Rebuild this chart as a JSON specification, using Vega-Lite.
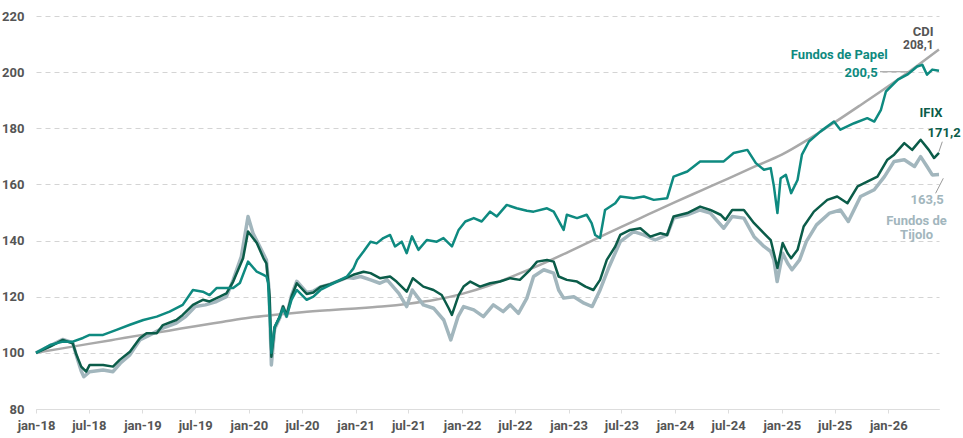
{
  "$schema": "https://vega.github.io/schema/vega-lite/v6.json",
  "width": 903,
  "height": 393,
  "autosize": "none",
  "padding": {"left": 36, "top": 16, "right": 24, "bottom": 29},
  "background": "white",
  "config": {
    "font": "Roboto",
    "view": {"stroke": null},
    "axis": {"labelFont": "Roboto", "labelFontSize": 13, "labelFontWeight": "bold", "labelColor": "#555555", "title": null}
  },
  "datasets": {
    "series": [
      {"s": "cdi", "d": "2018-01-01", "v": 100},
      {"s": "cdi", "d": "2018-04-01", "v": 101.6},
      {"s": "cdi", "d": "2018-07-01", "v": 103.2},
      {"s": "cdi", "d": "2018-10-01", "v": 104.8},
      {"s": "cdi", "d": "2019-01-01", "v": 106.4},
      {"s": "cdi", "d": "2019-04-01", "v": 107.9},
      {"s": "cdi", "d": "2019-07-01", "v": 109.5},
      {"s": "cdi", "d": "2019-10-01", "v": 111.0},
      {"s": "cdi", "d": "2020-01-01", "v": 112.5},
      {"s": "cdi", "d": "2020-04-01", "v": 113.6},
      {"s": "cdi", "d": "2020-07-01", "v": 114.5},
      {"s": "cdi", "d": "2020-10-01", "v": 115.2},
      {"s": "cdi", "d": "2021-01-01", "v": 115.8},
      {"s": "cdi", "d": "2021-04-01", "v": 116.5},
      {"s": "cdi", "d": "2021-07-01", "v": 117.5},
      {"s": "cdi", "d": "2021-10-01", "v": 118.9},
      {"s": "cdi", "d": "2022-01-01", "v": 121.0},
      {"s": "cdi", "d": "2022-04-01", "v": 123.9},
      {"s": "cdi", "d": "2022-07-01", "v": 127.6},
      {"s": "cdi", "d": "2022-10-01", "v": 131.6},
      {"s": "cdi", "d": "2023-01-01", "v": 136.0},
      {"s": "cdi", "d": "2023-04-01", "v": 140.4},
      {"s": "cdi", "d": "2023-07-01", "v": 144.9},
      {"s": "cdi", "d": "2023-10-01", "v": 149.3},
      {"s": "cdi", "d": "2024-01-01", "v": 153.7},
      {"s": "cdi", "d": "2024-04-01", "v": 157.9},
      {"s": "cdi", "d": "2024-07-01", "v": 162.1},
      {"s": "cdi", "d": "2024-10-01", "v": 166.4},
      {"s": "cdi", "d": "2025-01-01", "v": 170.6},
      {"s": "cdi", "d": "2025-04-01", "v": 176.0},
      {"s": "cdi", "d": "2025-07-01", "v": 182.1},
      {"s": "cdi", "d": "2025-10-01", "v": 188.5},
      {"s": "cdi", "d": "2026-01-01", "v": 195.0},
      {"s": "cdi", "d": "2026-04-01", "v": 201.6},
      {"s": "cdi", "d": "2026-06-24", "v": 208.1},

      {"s": "papel", "d": "2018-01-01", "v": 100},
      {"s": "papel", "d": "2018-02-18", "v": 102.8},
      {"s": "papel", "d": "2018-04-03", "v": 104.0},
      {"s": "papel", "d": "2018-05-07", "v": 104.0},
      {"s": "papel", "d": "2018-06-11", "v": 105.3},
      {"s": "papel", "d": "2018-07-04", "v": 106.4},
      {"s": "papel", "d": "2018-08-19", "v": 106.4},
      {"s": "papel", "d": "2018-10-04", "v": 108.2},
      {"s": "papel", "d": "2018-11-19", "v": 110.0},
      {"s": "papel", "d": "2019-01-04", "v": 111.7},
      {"s": "papel", "d": "2019-02-19", "v": 112.9},
      {"s": "papel", "d": "2019-04-04", "v": 114.7},
      {"s": "papel", "d": "2019-05-19", "v": 117.1},
      {"s": "papel", "d": "2019-06-23", "v": 122.4},
      {"s": "papel", "d": "2019-07-27", "v": 121.8},
      {"s": "papel", "d": "2019-08-19", "v": 120.6},
      {"s": "papel", "d": "2019-09-12", "v": 123.1},
      {"s": "papel", "d": "2019-10-16", "v": 123.1},
      {"s": "papel", "d": "2019-11-08", "v": 123.1},
      {"s": "papel", "d": "2019-12-01", "v": 124.9},
      {"s": "papel", "d": "2019-12-29", "v": 132.5},
      {"s": "papel", "d": "2020-01-28", "v": 128.9},
      {"s": "papel", "d": "2020-02-20", "v": 127.8},
      {"s": "papel", "d": "2020-03-01", "v": 127.2},
      {"s": "papel", "d": "2020-03-07", "v": 124.9},
      {"s": "papel", "d": "2020-03-18", "v": 100.0},
      {"s": "papel", "d": "2020-03-29", "v": 109.3},
      {"s": "papel", "d": "2020-04-16", "v": 112.9},
      {"s": "papel", "d": "2020-04-27", "v": 115.9},
      {"s": "papel", "d": "2020-05-09", "v": 112.9},
      {"s": "papel", "d": "2020-05-26", "v": 118.9},
      {"s": "papel", "d": "2020-06-13", "v": 122.4},
      {"s": "papel", "d": "2020-07-17", "v": 118.9},
      {"s": "papel", "d": "2020-08-09", "v": 120.0},
      {"s": "papel", "d": "2020-09-02", "v": 122.4},
      {"s": "papel", "d": "2020-10-06", "v": 124.2},
      {"s": "papel", "d": "2020-10-28", "v": 125.4},
      {"s": "papel", "d": "2020-11-21", "v": 126.6},
      {"s": "papel", "d": "2020-12-02", "v": 127.2},
      {"s": "papel", "d": "2020-12-24", "v": 130.0},
      {"s": "papel", "d": "2021-01-06", "v": 133.1},
      {"s": "papel", "d": "2021-01-28", "v": 136.1},
      {"s": "papel", "d": "2021-02-21", "v": 139.6},
      {"s": "papel", "d": "2021-03-14", "v": 139.0},
      {"s": "papel", "d": "2021-04-06", "v": 140.9},
      {"s": "papel", "d": "2021-04-29", "v": 142.0},
      {"s": "papel", "d": "2021-05-16", "v": 137.9},
      {"s": "papel", "d": "2021-06-08", "v": 139.6},
      {"s": "papel", "d": "2021-06-25", "v": 135.5},
      {"s": "papel", "d": "2021-07-13", "v": 141.5},
      {"s": "papel", "d": "2021-08-04", "v": 136.7},
      {"s": "papel", "d": "2021-09-02", "v": 140.2},
      {"s": "papel", "d": "2021-10-06", "v": 139.6},
      {"s": "papel", "d": "2021-10-29", "v": 140.9},
      {"s": "papel", "d": "2021-11-27", "v": 137.9},
      {"s": "papel", "d": "2021-12-20", "v": 143.8},
      {"s": "papel", "d": "2022-01-12", "v": 146.8},
      {"s": "papel", "d": "2022-02-10", "v": 148.0},
      {"s": "papel", "d": "2022-03-09", "v": 146.8},
      {"s": "papel", "d": "2022-04-07", "v": 150.3},
      {"s": "papel", "d": "2022-04-30", "v": 148.6},
      {"s": "papel", "d": "2022-06-03", "v": 152.7},
      {"s": "papel", "d": "2022-07-07", "v": 151.5},
      {"s": "papel", "d": "2022-08-11", "v": 150.6},
      {"s": "papel", "d": "2022-09-03", "v": 150.3},
      {"s": "papel", "d": "2022-10-19", "v": 151.5},
      {"s": "papel", "d": "2022-11-11", "v": 150.3},
      {"s": "papel", "d": "2022-12-15", "v": 143.8},
      {"s": "papel", "d": "2022-12-26", "v": 149.2},
      {"s": "papel", "d": "2023-01-30", "v": 148.0},
      {"s": "papel", "d": "2023-03-04", "v": 149.2},
      {"s": "papel", "d": "2023-03-21", "v": 146.2},
      {"s": "papel", "d": "2023-04-02", "v": 142.0},
      {"s": "papel", "d": "2023-04-19", "v": 140.9},
      {"s": "papel", "d": "2023-05-06", "v": 150.9},
      {"s": "papel", "d": "2023-06-10", "v": 153.3},
      {"s": "papel", "d": "2023-06-27", "v": 155.7},
      {"s": "papel", "d": "2023-08-12", "v": 155.1},
      {"s": "papel", "d": "2023-09-16", "v": 155.7},
      {"s": "papel", "d": "2023-10-20", "v": 154.5},
      {"s": "papel", "d": "2023-12-05", "v": 155.1},
      {"s": "papel", "d": "2023-12-27", "v": 162.8},
      {"s": "papel", "d": "2024-02-12", "v": 164.6},
      {"s": "papel", "d": "2024-03-27", "v": 168.2},
      {"s": "papel", "d": "2024-05-12", "v": 168.2},
      {"s": "papel", "d": "2024-06-16", "v": 168.2},
      {"s": "papel", "d": "2024-07-20", "v": 171.2},
      {"s": "papel", "d": "2024-09-05", "v": 172.3},
      {"s": "papel", "d": "2024-10-04", "v": 167.6},
      {"s": "papel", "d": "2024-11-01", "v": 165.2},
      {"s": "papel", "d": "2024-11-24", "v": 165.8},
      {"s": "papel", "d": "2024-12-05", "v": 159.3},
      {"s": "papel", "d": "2024-12-17", "v": 149.8},
      {"s": "papel", "d": "2024-12-28", "v": 162.2},
      {"s": "papel", "d": "2025-01-15", "v": 163.4},
      {"s": "papel", "d": "2025-02-02", "v": 156.9},
      {"s": "papel", "d": "2025-02-24", "v": 161.6},
      {"s": "papel", "d": "2025-03-11", "v": 170.6},
      {"s": "papel", "d": "2025-04-04", "v": 175.3},
      {"s": "papel", "d": "2025-05-14", "v": 178.9},
      {"s": "papel", "d": "2025-06-29", "v": 182.4},
      {"s": "papel", "d": "2025-07-21", "v": 179.5},
      {"s": "papel", "d": "2025-09-06", "v": 181.8},
      {"s": "papel", "d": "2025-10-21", "v": 183.6},
      {"s": "papel", "d": "2025-11-14", "v": 182.4},
      {"s": "papel", "d": "2025-12-07", "v": 186.6},
      {"s": "papel", "d": "2025-12-24", "v": 193.1},
      {"s": "papel", "d": "2026-02-03", "v": 197.3},
      {"s": "papel", "d": "2026-03-07", "v": 199.1},
      {"s": "papel", "d": "2026-04-10", "v": 202.0},
      {"s": "papel", "d": "2026-04-28", "v": 202.6},
      {"s": "papel", "d": "2026-05-14", "v": 199.1},
      {"s": "papel", "d": "2026-06-01", "v": 200.9},
      {"s": "papel", "d": "2026-06-24", "v": 200.5},

      {"s": "ifix", "d": "2018-01-01", "v": 100},
      {"s": "ifix", "d": "2018-02-18", "v": 102.2},
      {"s": "ifix", "d": "2018-04-03", "v": 104.6},
      {"s": "ifix", "d": "2018-05-07", "v": 103.4},
      {"s": "ifix", "d": "2018-05-18", "v": 99.8},
      {"s": "ifix", "d": "2018-06-05", "v": 95.1},
      {"s": "ifix", "d": "2018-06-22", "v": 93.3},
      {"s": "ifix", "d": "2018-07-04", "v": 95.7},
      {"s": "ifix", "d": "2018-08-19", "v": 95.7},
      {"s": "ifix", "d": "2018-09-22", "v": 95.1},
      {"s": "ifix", "d": "2018-10-15", "v": 97.5},
      {"s": "ifix", "d": "2018-11-19", "v": 100.4},
      {"s": "ifix", "d": "2018-12-23", "v": 105.2},
      {"s": "ifix", "d": "2019-01-15", "v": 107.0},
      {"s": "ifix", "d": "2019-02-19", "v": 107.0},
      {"s": "ifix", "d": "2019-03-12", "v": 109.9},
      {"s": "ifix", "d": "2019-04-27", "v": 111.7},
      {"s": "ifix", "d": "2019-05-19", "v": 113.5},
      {"s": "ifix", "d": "2019-06-23", "v": 117.1},
      {"s": "ifix", "d": "2019-07-27", "v": 118.9},
      {"s": "ifix", "d": "2019-08-19", "v": 118.3},
      {"s": "ifix", "d": "2019-09-23", "v": 120.0},
      {"s": "ifix", "d": "2019-10-16", "v": 121.2},
      {"s": "ifix", "d": "2019-11-08", "v": 125.4},
      {"s": "ifix", "d": "2019-12-12", "v": 133.7},
      {"s": "ifix", "d": "2019-12-29", "v": 143.2},
      {"s": "ifix", "d": "2020-01-28", "v": 139.1},
      {"s": "ifix", "d": "2020-02-20", "v": 133.7},
      {"s": "ifix", "d": "2020-03-01", "v": 131.9},
      {"s": "ifix", "d": "2020-03-12", "v": 120.0},
      {"s": "ifix", "d": "2020-03-18", "v": 98.6},
      {"s": "ifix", "d": "2020-03-29", "v": 109.0},
      {"s": "ifix", "d": "2020-04-16", "v": 113.0},
      {"s": "ifix", "d": "2020-04-27", "v": 116.5},
      {"s": "ifix", "d": "2020-05-09", "v": 113.5},
      {"s": "ifix", "d": "2020-05-26", "v": 120.0},
      {"s": "ifix", "d": "2020-06-13", "v": 124.8},
      {"s": "ifix", "d": "2020-07-17", "v": 121.0},
      {"s": "ifix", "d": "2020-08-09", "v": 121.5},
      {"s": "ifix", "d": "2020-09-02", "v": 123.5},
      {"s": "ifix", "d": "2020-10-06", "v": 124.5},
      {"s": "ifix", "d": "2020-10-28", "v": 125.4},
      {"s": "ifix", "d": "2020-12-02", "v": 126.8},
      {"s": "ifix", "d": "2020-12-24", "v": 127.8},
      {"s": "ifix", "d": "2021-01-28", "v": 128.9},
      {"s": "ifix", "d": "2021-02-21", "v": 128.4},
      {"s": "ifix", "d": "2021-03-25", "v": 126.6},
      {"s": "ifix", "d": "2021-04-29", "v": 127.2},
      {"s": "ifix", "d": "2021-05-21", "v": 125.4},
      {"s": "ifix", "d": "2021-06-25", "v": 121.8},
      {"s": "ifix", "d": "2021-07-16", "v": 126.6},
      {"s": "ifix", "d": "2021-08-21", "v": 123.6},
      {"s": "ifix", "d": "2021-09-25", "v": 122.4},
      {"s": "ifix", "d": "2021-10-23", "v": 120.6},
      {"s": "ifix", "d": "2021-11-16", "v": 115.9},
      {"s": "ifix", "d": "2021-11-27", "v": 113.5},
      {"s": "ifix", "d": "2021-12-20", "v": 120.6},
      {"s": "ifix", "d": "2022-01-06", "v": 123.6},
      {"s": "ifix", "d": "2022-01-29", "v": 125.4},
      {"s": "ifix", "d": "2022-03-03", "v": 123.6},
      {"s": "ifix", "d": "2022-04-07", "v": 124.8},
      {"s": "ifix", "d": "2022-05-11", "v": 125.4},
      {"s": "ifix", "d": "2022-06-15", "v": 126.6},
      {"s": "ifix", "d": "2022-07-18", "v": 126.0},
      {"s": "ifix", "d": "2022-08-22", "v": 129.6},
      {"s": "ifix", "d": "2022-09-15", "v": 132.5},
      {"s": "ifix", "d": "2022-10-19", "v": 133.1},
      {"s": "ifix", "d": "2022-11-11", "v": 132.5},
      {"s": "ifix", "d": "2022-11-28", "v": 127.2},
      {"s": "ifix", "d": "2022-12-26", "v": 126.0},
      {"s": "ifix", "d": "2023-01-30", "v": 125.4},
      {"s": "ifix", "d": "2023-02-28", "v": 123.6},
      {"s": "ifix", "d": "2023-03-27", "v": 122.4},
      {"s": "ifix", "d": "2023-04-19", "v": 126.0},
      {"s": "ifix", "d": "2023-05-12", "v": 133.1},
      {"s": "ifix", "d": "2023-06-10", "v": 137.9},
      {"s": "ifix", "d": "2023-06-27", "v": 142.0},
      {"s": "ifix", "d": "2023-07-31", "v": 143.8},
      {"s": "ifix", "d": "2023-09-04", "v": 144.4},
      {"s": "ifix", "d": "2023-10-08", "v": 141.4},
      {"s": "ifix", "d": "2023-11-12", "v": 142.6},
      {"s": "ifix", "d": "2023-12-05", "v": 142.0},
      {"s": "ifix", "d": "2023-12-27", "v": 148.6},
      {"s": "ifix", "d": "2024-02-12", "v": 149.8},
      {"s": "ifix", "d": "2024-03-27", "v": 152.1},
      {"s": "ifix", "d": "2024-05-01", "v": 150.9},
      {"s": "ifix", "d": "2024-06-05", "v": 149.2},
      {"s": "ifix", "d": "2024-06-22", "v": 147.4},
      {"s": "ifix", "d": "2024-07-15", "v": 150.9},
      {"s": "ifix", "d": "2024-08-24", "v": 150.9},
      {"s": "ifix", "d": "2024-09-28", "v": 146.2},
      {"s": "ifix", "d": "2024-11-01", "v": 142.6},
      {"s": "ifix", "d": "2024-11-24", "v": 140.2},
      {"s": "ifix", "d": "2024-12-05", "v": 135.5},
      {"s": "ifix", "d": "2024-12-17", "v": 130.2},
      {"s": "ifix", "d": "2025-01-04", "v": 139.1},
      {"s": "ifix", "d": "2025-01-21", "v": 135.5},
      {"s": "ifix", "d": "2025-02-02", "v": 133.7},
      {"s": "ifix", "d": "2025-02-24", "v": 136.7},
      {"s": "ifix", "d": "2025-03-17", "v": 145.0},
      {"s": "ifix", "d": "2025-04-21", "v": 150.3},
      {"s": "ifix", "d": "2025-06-06", "v": 154.5},
      {"s": "ifix", "d": "2025-07-10", "v": 155.7},
      {"s": "ifix", "d": "2025-08-14", "v": 153.3},
      {"s": "ifix", "d": "2025-09-18", "v": 159.3},
      {"s": "ifix", "d": "2025-10-21", "v": 161.0},
      {"s": "ifix", "d": "2025-11-25", "v": 162.8},
      {"s": "ifix", "d": "2025-12-29", "v": 168.8},
      {"s": "ifix", "d": "2026-01-21", "v": 170.6},
      {"s": "ifix", "d": "2026-02-25", "v": 174.7},
      {"s": "ifix", "d": "2026-03-24", "v": 172.3},
      {"s": "ifix", "d": "2026-04-22", "v": 175.9},
      {"s": "ifix", "d": "2026-05-20", "v": 172.3},
      {"s": "ifix", "d": "2026-06-07", "v": 169.4},
      {"s": "ifix", "d": "2026-06-24", "v": 171.2},

      {"s": "tijolo", "d": "2018-01-01", "v": 100},
      {"s": "tijolo", "d": "2018-02-18", "v": 102.5},
      {"s": "tijolo", "d": "2018-04-03", "v": 104.8},
      {"s": "tijolo", "d": "2018-05-07", "v": 103.6},
      {"s": "tijolo", "d": "2018-05-18", "v": 99.5},
      {"s": "tijolo", "d": "2018-06-05", "v": 93.5},
      {"s": "tijolo", "d": "2018-06-14", "v": 91.5},
      {"s": "tijolo", "d": "2018-07-04", "v": 93.3},
      {"s": "tijolo", "d": "2018-08-19", "v": 93.9},
      {"s": "tijolo", "d": "2018-09-22", "v": 93.3},
      {"s": "tijolo", "d": "2018-10-17", "v": 96.3},
      {"s": "tijolo", "d": "2018-11-19", "v": 99.3},
      {"s": "tijolo", "d": "2018-12-23", "v": 104.6},
      {"s": "tijolo", "d": "2019-01-27", "v": 106.4},
      {"s": "tijolo", "d": "2019-03-12", "v": 108.8},
      {"s": "tijolo", "d": "2019-04-27", "v": 110.6},
      {"s": "tijolo", "d": "2019-05-29", "v": 112.9},
      {"s": "tijolo", "d": "2019-07-01", "v": 116.5},
      {"s": "tijolo", "d": "2019-08-05", "v": 117.1},
      {"s": "tijolo", "d": "2019-09-12", "v": 118.3},
      {"s": "tijolo", "d": "2019-10-16", "v": 120.0},
      {"s": "tijolo", "d": "2019-11-08", "v": 126.0},
      {"s": "tijolo", "d": "2019-12-06", "v": 134.3},
      {"s": "tijolo", "d": "2019-12-29", "v": 148.6},
      {"s": "tijolo", "d": "2020-01-15", "v": 142.6},
      {"s": "tijolo", "d": "2020-02-07", "v": 137.9},
      {"s": "tijolo", "d": "2020-03-01", "v": 133.1},
      {"s": "tijolo", "d": "2020-03-10", "v": 122.4},
      {"s": "tijolo", "d": "2020-03-18", "v": 95.7},
      {"s": "tijolo", "d": "2020-03-29", "v": 108.5},
      {"s": "tijolo", "d": "2020-04-16", "v": 112.5},
      {"s": "tijolo", "d": "2020-04-27", "v": 116.5},
      {"s": "tijolo", "d": "2020-05-09", "v": 113.0},
      {"s": "tijolo", "d": "2020-05-26", "v": 120.5},
      {"s": "tijolo", "d": "2020-06-13", "v": 125.5},
      {"s": "tijolo", "d": "2020-07-17", "v": 121.5},
      {"s": "tijolo", "d": "2020-08-09", "v": 122.0},
      {"s": "tijolo", "d": "2020-09-02", "v": 123.5},
      {"s": "tijolo", "d": "2020-10-06", "v": 124.5},
      {"s": "tijolo", "d": "2020-10-28", "v": 125.4},
      {"s": "tijolo", "d": "2020-12-02", "v": 126.8},
      {"s": "tijolo", "d": "2020-12-24", "v": 126.6},
      {"s": "tijolo", "d": "2021-01-18", "v": 127.2},
      {"s": "tijolo", "d": "2021-02-21", "v": 126.0},
      {"s": "tijolo", "d": "2021-03-25", "v": 124.8},
      {"s": "tijolo", "d": "2021-04-19", "v": 126.0},
      {"s": "tijolo", "d": "2021-05-29", "v": 121.2},
      {"s": "tijolo", "d": "2021-06-25", "v": 116.5},
      {"s": "tijolo", "d": "2021-07-14", "v": 122.4},
      {"s": "tijolo", "d": "2021-08-21", "v": 117.1},
      {"s": "tijolo", "d": "2021-09-25", "v": 115.9},
      {"s": "tijolo", "d": "2021-10-30", "v": 111.7},
      {"s": "tijolo", "d": "2021-11-23", "v": 104.6},
      {"s": "tijolo", "d": "2021-12-18", "v": 112.9},
      {"s": "tijolo", "d": "2022-01-06", "v": 116.5},
      {"s": "tijolo", "d": "2022-02-10", "v": 115.3},
      {"s": "tijolo", "d": "2022-03-15", "v": 112.9},
      {"s": "tijolo", "d": "2022-04-18", "v": 117.1},
      {"s": "tijolo", "d": "2022-05-22", "v": 114.7},
      {"s": "tijolo", "d": "2022-06-15", "v": 117.1},
      {"s": "tijolo", "d": "2022-07-13", "v": 114.1},
      {"s": "tijolo", "d": "2022-08-11", "v": 119.5},
      {"s": "tijolo", "d": "2022-09-03", "v": 127.2},
      {"s": "tijolo", "d": "2022-10-08", "v": 129.6},
      {"s": "tijolo", "d": "2022-11-11", "v": 128.4},
      {"s": "tijolo", "d": "2022-11-28", "v": 122.4},
      {"s": "tijolo", "d": "2022-12-15", "v": 119.5},
      {"s": "tijolo", "d": "2023-01-19", "v": 120.0},
      {"s": "tijolo", "d": "2023-02-23", "v": 117.7},
      {"s": "tijolo", "d": "2023-03-23", "v": 116.5},
      {"s": "tijolo", "d": "2023-04-19", "v": 122.4},
      {"s": "tijolo", "d": "2023-05-20", "v": 130.7},
      {"s": "tijolo", "d": "2023-06-27", "v": 139.6},
      {"s": "tijolo", "d": "2023-08-12", "v": 143.2},
      {"s": "tijolo", "d": "2023-09-16", "v": 142.0},
      {"s": "tijolo", "d": "2023-10-25", "v": 140.2},
      {"s": "tijolo", "d": "2023-12-05", "v": 142.0},
      {"s": "tijolo", "d": "2023-12-27", "v": 148.0},
      {"s": "tijolo", "d": "2024-02-12", "v": 149.2},
      {"s": "tijolo", "d": "2024-03-27", "v": 150.9},
      {"s": "tijolo", "d": "2024-05-01", "v": 149.8},
      {"s": "tijolo", "d": "2024-06-16", "v": 144.4},
      {"s": "tijolo", "d": "2024-07-15", "v": 148.6},
      {"s": "tijolo", "d": "2024-08-24", "v": 148.0},
      {"s": "tijolo", "d": "2024-09-28", "v": 141.4},
      {"s": "tijolo", "d": "2024-11-01", "v": 137.9},
      {"s": "tijolo", "d": "2024-11-24", "v": 136.1},
      {"s": "tijolo", "d": "2024-12-05", "v": 133.1},
      {"s": "tijolo", "d": "2024-12-16", "v": 125.4},
      {"s": "tijolo", "d": "2025-01-04", "v": 135.5},
      {"s": "tijolo", "d": "2025-01-21", "v": 131.9},
      {"s": "tijolo", "d": "2025-02-05", "v": 129.6},
      {"s": "tijolo", "d": "2025-03-03", "v": 133.1},
      {"s": "tijolo", "d": "2025-03-26", "v": 139.6},
      {"s": "tijolo", "d": "2025-04-30", "v": 145.6},
      {"s": "tijolo", "d": "2025-06-14", "v": 149.8},
      {"s": "tijolo", "d": "2025-07-21", "v": 150.9},
      {"s": "tijolo", "d": "2025-08-17", "v": 146.8},
      {"s": "tijolo", "d": "2025-09-28", "v": 155.7},
      {"s": "tijolo", "d": "2025-11-14", "v": 158.1},
      {"s": "tijolo", "d": "2025-12-19", "v": 162.8},
      {"s": "tijolo", "d": "2026-01-21", "v": 168.2},
      {"s": "tijolo", "d": "2026-02-25", "v": 168.8},
      {"s": "tijolo", "d": "2026-04-01", "v": 166.4},
      {"s": "tijolo", "d": "2026-04-22", "v": 169.9},
      {"s": "tijolo", "d": "2026-05-14", "v": 166.4},
      {"s": "tijolo", "d": "2026-06-01", "v": 163.4},
      {"s": "tijolo", "d": "2026-06-24", "v": 163.5}
    ],
    "ends": [
      {"s": "cdi", "d": "2026-06-24", "v": 208.1, "name": "CDI", "lbl": "208,1"},
      {"s": "papel", "d": "2026-06-24", "v": 200.5, "name": "Fundos de Papel", "lbl": "200,5"},
      {"s": "ifix", "d": "2026-06-24", "v": 171.2, "name": "IFIX", "lbl": "171,2"},
      {"s": "tijolo", "d": "2026-06-24", "v": 163.5, "name": "Fundos de\nTijolo", "lbl": "163,5"}
    ]
  },
  "encoding": {
    "x": {
      "field": "d",
      "type": "temporal",
      "scale": {
        "type": "utc",
        "domain": [
          {"year": 2018, "month": 1, "date": 1, "utc": true},
          {"year": 2026, "month": 6, "date": 24, "utc": true}
        ]
      },
      "axis": {
        "tickCount": {"interval": "month", "step": 6},
        "labelExpr": "lower(utcFormat(datum.value, '%b-%y'))",
        "grid": false,
        "domainColor": "#dddddd",
        "tickColor": "#dddddd",
        "tickSize": 4,
        "labelPadding": 6,
        "labelFlush": false,
        "labelOverlap": false
      }
    },
    "y": {
      "field": "v",
      "type": "quantitative",
      "scale": {"domain": [80, 220]},
      "axis": {
        "values": [80, 100, 120, 140, 160, 180, 200, 220],
        "domain": false,
        "ticks": false,
        "grid": true,
        "gridColor": "#d4d4d4",
        "gridDash": [5, 4],
        "labelPadding": 12
      }
    }
  },
  "layer": [
    {
      "data": {"name": "series"},
      "transform": [{"filter": "datum.s == 'cdi'"}],
      "mark": {"type": "line", "color": "#a9a9a9", "strokeWidth": 2.5, "interpolate": "monotone"}
    },
    {
      "data": {"name": "series"},
      "transform": [{"filter": "datum.s == 'tijolo'"}],
      "mark": {"type": "line", "color": "#a2b6bd", "strokeWidth": 3.5, "strokeJoin": "round"}
    },
    {
      "data": {"name": "series"},
      "transform": [{"filter": "datum.s == 'ifix'"}],
      "mark": {"type": "line", "color": "#0b5c49", "strokeWidth": 2.5, "strokeJoin": "round"}
    },
    {
      "data": {"name": "series"},
      "transform": [{"filter": "datum.s == 'papel'"}],
      "mark": {"type": "line", "color": "#0e8a80", "strokeWidth": 2.5, "strokeJoin": "round"}
    },
    {
      "data": {"name": "ends"},
      "transform": [{"filter": "datum.s == 'papel'"}],
      "mark": {"type": "rule", "color": "#9a9a9a", "strokeWidth": 1, "xOffset": -59, "x2Offset": -31, "yOffset": 1, "y2Offset": 1},
      "encoding": {"x2": {"field": "d"}, "y2": {"field": "v"}}
    },
    {
      "data": {"name": "ends"},
      "transform": [{"filter": "datum.s == 'ifix'"}],
      "mark": {"type": "rule", "color": "#9a9a9a", "strokeWidth": 1, "xOffset": 3.3, "yOffset": -11.3, "x2Offset": -0.1, "y2Offset": -1.3},
      "encoding": {"x2": {"field": "d"}, "y2": {"field": "v"}}
    },
    {
      "data": {"name": "ends"},
      "transform": [{"filter": "datum.s == 'tijolo'"}],
      "mark": {"type": "rule", "color": "#9a9a9a", "strokeWidth": 1, "xOffset": 4.3, "yOffset": 3.7, "x2Offset": -3.4, "y2Offset": 18.7},
      "encoding": {"x2": {"field": "d"}, "y2": {"field": "v"}}
    },
    {
      "data": {"name": "ends"},
      "transform": [{"filter": "datum.s == 'cdi'"}],
      "mark": {"type": "text", "align": "right", "baseline": "alphabetic", "dx": -5.4, "dy": -13.6, "fontSize": 13, "fontWeight": "bold", "color": "#555555"},
      "encoding": {"text": {"field": "name"}}
    },
    {
      "data": {"name": "ends"},
      "transform": [{"filter": "datum.s == 'cdi'"}],
      "mark": {"type": "text", "align": "right", "baseline": "alphabetic", "dx": -5.4, "dy": 0, "fontSize": 12, "fontWeight": "bold", "color": "#555555"},
      "encoding": {"text": {"field": "lbl"}}
    },
    {
      "data": {"name": "ends"},
      "transform": [{"filter": "datum.s == 'papel'"}],
      "mark": {"type": "text", "align": "right", "baseline": "alphabetic", "dx": -51.4, "dy": -11.4, "fontSize": 13, "fontWeight": "bold", "color": "#0e8a80"},
      "encoding": {"text": {"field": "name"}}
    },
    {
      "data": {"name": "ends"},
      "transform": [{"filter": "datum.s == 'papel'"}],
      "mark": {"type": "text", "align": "right", "baseline": "alphabetic", "dx": -61.4, "dy": 6, "fontSize": 13, "fontWeight": "bold", "color": "#0e8a80"},
      "encoding": {"text": {"field": "lbl"}}
    },
    {
      "data": {"name": "ends"},
      "transform": [{"filter": "datum.s == 'ifix'"}],
      "mark": {"type": "text", "align": "right", "baseline": "alphabetic", "dx": 3.6, "dy": -36.3, "fontSize": 13, "fontWeight": "bold", "color": "#0b5c49"},
      "encoding": {"text": {"field": "name"}}
    },
    {
      "data": {"name": "ends"},
      "transform": [{"filter": "datum.s == 'ifix'"}],
      "mark": {"type": "text", "align": "right", "baseline": "alphabetic", "dx": 21.6, "dy": -16.3, "fontSize": 13, "fontWeight": "bold", "color": "#0b5c49"},
      "encoding": {"text": {"field": "lbl"}}
    },
    {
      "data": {"name": "ends"},
      "transform": [{"filter": "datum.s == 'tijolo'"}],
      "mark": {"type": "text", "align": "right", "baseline": "alphabetic", "dx": 4.6, "dy": 29.7, "fontSize": 13, "fontWeight": "bold", "color": "#a2b6bd"},
      "encoding": {"text": {"field": "lbl"}}
    },
    {
      "data": {"name": "ends"},
      "transform": [{"filter": "datum.s == 'tijolo'"}],
      "mark": {"type": "text", "align": "center", "baseline": "alphabetic", "dx": -22.4, "dy": 50.4, "lineBreak": "\n", "lineHeight": 14, "fontSize": 13, "fontWeight": "bold", "color": "#a2b6bd"},
      "encoding": {"text": {"field": "name"}}
    }
  ]
}
